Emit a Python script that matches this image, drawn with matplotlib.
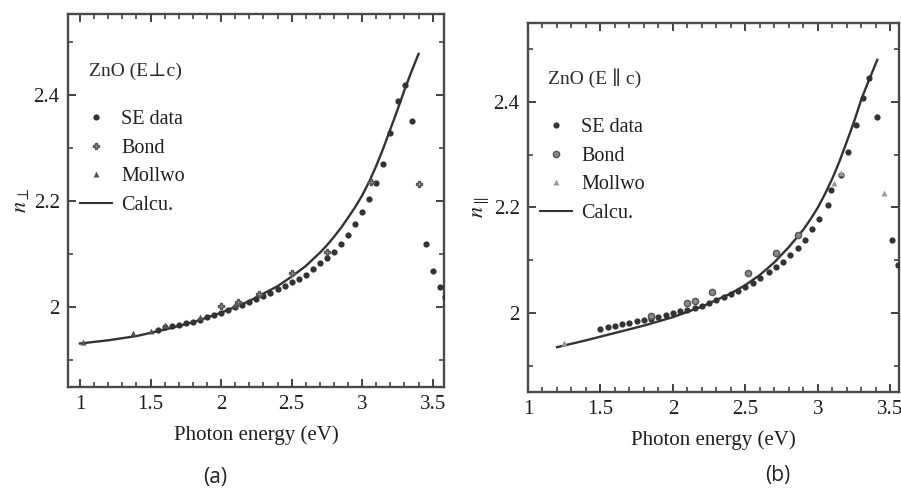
import matplotlib
matplotlib.use("Agg")
import matplotlib.pyplot as plt
from matplotlib.ticker import MultipleLocator, FormatStrFormatter
from matplotlib.lines import Line2D

plt.rcParams['font.family'] = ['Liberation Serif', 'DejaVu Serif']
plt.rcParams['mathtext.fontset'] = 'stix'

# ---------------- Panel (a): E perp c ----------------
a_calc_x = [1.0, 1.2, 1.4, 1.6, 1.8, 2.0, 2.2, 2.4, 2.5, 2.6, 2.7, 2.75, 2.8, 2.85, 2.9, 2.95,
            3.0, 3.05, 3.1, 3.15, 3.2, 3.25, 3.3, 3.35, 3.4]
a_calc_y = [1.932, 1.938, 1.946, 1.958, 1.972, 1.990, 2.012, 2.040, 2.058, 2.078, 2.103, 2.117,
            2.133, 2.150, 2.169, 2.189, 2.211, 2.237, 2.267, 2.300, 2.336, 2.372, 2.410, 2.445,
            2.478]
a_se_x = [1.55, 1.6, 1.65, 1.7, 1.75, 1.8, 1.85, 1.9, 1.95, 2.0, 2.05, 2.1, 2.15, 2.2, 2.25, 2.3,
          2.35, 2.4, 2.45, 2.5, 2.55, 2.6, 2.65, 2.7, 2.75, 2.8, 2.85, 2.9, 2.95, 3.0, 3.05, 3.1,
          3.15, 3.2, 3.255, 3.305, 3.355, 3.45, 3.5, 3.55, 3.59]
a_se_y = [1.958, 1.963, 1.965, 1.967, 1.970, 1.973, 1.977, 1.981, 1.985, 1.990, 1.995, 2.000,
          2.005, 2.010, 2.016, 2.022, 2.028, 2.034, 2.041, 2.047, 2.053, 2.062, 2.072, 2.083,
          2.094, 2.105, 2.120, 2.136, 2.157, 2.180, 2.205, 2.235, 2.270, 2.328, 2.389, 2.420,
          2.351, 2.120, 2.068, 2.038, 2.020]
a_bond_x = [2.0, 2.12, 2.27, 2.5, 2.75, 3.06, 3.4]
a_bond_y = [2.002, 2.010, 2.026, 2.064, 2.104, 2.236, 2.233]
a_mol_x = [1.02, 1.375, 1.5, 1.6, 1.85, 2.1]
a_mol_y = [1.935, 1.951, 1.955, 1.967, 1.982, 2.004]

# ---------------- Panel (b): E parallel c ----------------
b_calc_x = [1.2, 1.4, 1.6, 1.8, 2.0, 2.2, 2.4, 2.5, 2.6, 2.7, 2.8, 2.9, 2.95, 3.0, 3.05, 3.1,
            3.15, 3.2, 3.25, 3.3, 3.35, 3.41]
b_calc_y = [1.935, 1.948, 1.962, 1.976, 1.992, 2.012, 2.037, 2.053, 2.072, 2.096, 2.125, 2.158,
            2.178, 2.200, 2.226, 2.255, 2.288, 2.325, 2.363, 2.405, 2.440, 2.480]
b_se_x = [1.5, 1.55, 1.6, 1.65, 1.7, 1.75, 1.8, 1.85, 1.9, 1.95, 2.0, 2.05, 2.1, 2.15, 2.2, 2.25,
          2.3, 2.35, 2.4, 2.45, 2.5, 2.55, 2.6, 2.66, 2.71, 2.76, 2.81, 2.86, 2.91, 2.96, 3.01,
          3.07, 3.09, 3.16, 3.21, 3.26, 3.31, 3.35, 3.41, 3.51, 3.55]
b_se_y = [1.970, 1.973, 1.976, 1.979, 1.981, 1.984, 1.987, 1.989, 1.993, 1.997, 2.000, 2.003,
          2.006, 2.010, 2.014, 2.019, 2.025, 2.030, 2.036, 2.042, 2.049, 2.057, 2.066, 2.077,
          2.087, 2.097, 2.110, 2.124, 2.139, 2.160, 2.178, 2.205, 2.233, 2.262, 2.305, 2.357,
          2.408, 2.446, 2.372, 2.139, 2.090]
b_bond_x = [1.85, 2.1, 2.15, 2.27, 2.52, 2.71, 2.86]
b_bond_y = [1.995, 2.018, 2.022, 2.040, 2.076, 2.114, 2.148]
b_mol_x = [1.25, 3.11, 3.16, 3.455]
b_mol_y = [1.943, 2.247, 2.266, 2.228]

xticks = [1, 1.5, 2, 2.5, 3, 3.5]
yticks = [2.0, 2.2, 2.4]

INK = '#333333'

fig = plt.figure(figsize=(9.01, 4.93), dpi=100)
W, H = 901, 493


def px_axes(l, t, r, b):
    return fig.add_axes([l / W, 1 - b / H, (r - l) / W, (b - t) / H])


def style(ax, xlim, ylim):
    ax.set_xlim(*xlim)
    ax.set_ylim(*ylim)
    ax.set_xticks(xticks)
    ax.set_yticks(yticks)
    ax.xaxis.set_major_formatter(FormatStrFormatter('%g'))
    ax.yaxis.set_major_formatter(FormatStrFormatter('%g'))
    ax.xaxis.set_minor_locator(MultipleLocator(0.1))
    ax.yaxis.set_minor_locator(MultipleLocator(0.1))
    ax.tick_params(which='both', direction='in', top=True, right=True, color=INK,
                   labelsize=15, labelcolor='#1e1e1e', pad=6)
    ax.tick_params(which='major', length=6, width=1.3)
    ax.tick_params(which='minor', length=3.5, width=1.1)
    for s in ax.spines.values():
        s.set_color('#4a4a4a')
        s.set_linewidth(1.7)
    ax.set_xlabel('Photon energy (eV)', fontsize=15, color='#1e1e1e', labelpad=8)


def draw(ax, cx, cy, sx, sy, bx, by, mx, my, title, bond_marker, mol_color):
    ax.plot(cx, cy, color=INK, lw=1.7, zorder=3, solid_joinstyle='round')
    ax.plot(sx, sy, 'o', color=INK, ms=4.5, mec='none', zorder=4)
    ax.plot(bx, by, bond_marker, color='#555555', ms=4.5, mec='#555555', mfc='#888888', zorder=4)
    ax.plot(mx, my, '^', color=mol_color, ms=4.5, mec='none', zorder=4)
    ax.text(0.055, 0.835, title, transform=ax.transAxes, fontsize=14, color='#2a2a2a',
            family=['Liberation Serif', 'DejaVu Serif'])
    handles = [Line2D([], [], ls='none', marker='o', color=INK, ms=4.5, mec='none'),
               Line2D([], [], ls='none', marker=bond_marker, color='#555555', ms=4.5,
                      mfc='#888888', mec='#555555'),
               Line2D([], [], ls='none', marker='^', color=mol_color, ms=4.5, mec='none'),
               Line2D([], [], color=INK, lw=1.5)]
    leg = ax.legend(handles, ['SE data', 'Bond', 'Mollwo', 'Calcu.'], loc='upper left',
                    bbox_to_anchor=(0.01, 0.765), frameon=False, fontsize=14.5,
                    handlelength=1.6, handletextpad=0.45, labelspacing=0.48,
                    borderaxespad=0.0)
    for t in leg.get_texts():
        t.set_color('#1e1e1e')


ax1 = px_axes(68, 14, 444, 387)
style(ax1, (0.915, 3.58), (1.85, 2.553))
draw(ax1, a_calc_x, a_calc_y, a_se_x, a_se_y, a_bond_x, a_bond_y, a_mol_x, a_mol_y,
     'ZnO (E\u22a5c)', 'P', '#555555')
ax1.set_ylabel(r'$n_{\perp}$', fontsize=16, color='#1e1e1e', labelpad=2)

ax2 = px_axes(528, 23, 899, 392)
style(ax2, (1.0, 3.56), (1.85, 2.55))
draw(ax2, b_calc_x, b_calc_y, b_se_x, b_se_y, b_bond_x, b_bond_y, b_mol_x, b_mol_y,
     'ZnO (E \u2225 c)', 'o', '#9a9a9a')
ax2.set_ylabel(r'$n_{\parallel}$', fontsize=16, color='#1e1e1e', labelpad=2)

fig.text(215 / W, 1 - 478 / H, '(a)', fontsize=15, family='Open Sans', color='#222222',
         ha='center', va='center')
fig.text(778 / W, 1 - 476 / H, '(b)', fontsize=15, family='Open Sans', color='#222222',
         ha='center', va='center')

fig.savefig('out.png', dpi=100)
